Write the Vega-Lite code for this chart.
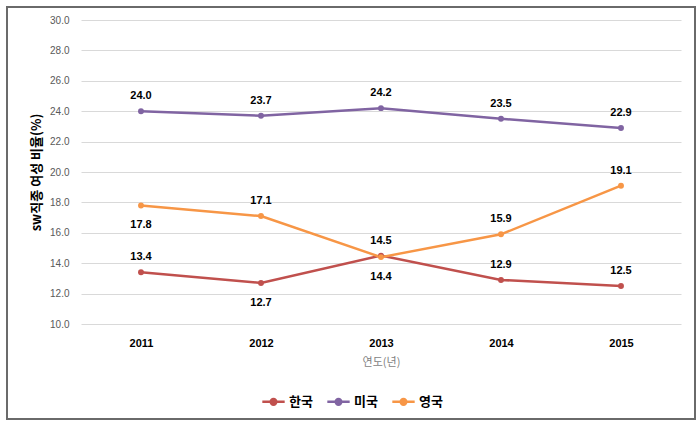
{
  "$schema": "https://vega.github.io/schema/vega-lite/v6.json",
  "width": 600,
  "height": 304,
  "padding": {"left": 6, "top": 6, "right": 6, "bottom": 6},
  "background": "white",
  "config": {
    "view": {"stroke": null},
    "axis": {"labelFont": "Liberation Sans", "titleFont": "Noto Sans CJK KR"},
    "axisY": {"labelOverlap": false}
  },
  "data": {
    "values": [
      {"year": 2011, "country": "한국", "value": 13.4},
      {"year": 2012, "country": "한국", "value": 12.7},
      {"year": 2013, "country": "한국", "value": 14.5},
      {"year": 2014, "country": "한국", "value": 12.9},
      {"year": 2015, "country": "한국", "value": 12.5},
      {"year": 2011, "country": "미국", "value": 24.0},
      {"year": 2012, "country": "미국", "value": 23.7},
      {"year": 2013, "country": "미국", "value": 24.2},
      {"year": 2014, "country": "미국", "value": 23.5},
      {"year": 2015, "country": "미국", "value": 22.9},
      {"year": 2011, "country": "영국", "value": 17.8},
      {"year": 2012, "country": "영국", "value": 17.1},
      {"year": 2013, "country": "영국", "value": 14.4},
      {"year": 2014, "country": "영국", "value": 15.9},
      {"year": 2015, "country": "영국", "value": 19.1}
    ]
  },
  "layer": [
    {
      "mark": {"type": "line", "strokeWidth": 2.5, "point": {"filled": true, "size": 35}},
      "encoding": {
        "x": {
          "field": "year", "type": "quantitative",
          "scale": {"domain": [2010.5, 2015.5], "nice": false, "zero": false},
          "axis": {
            "values": [2011, 2012, 2013, 2014, 2015], "format": "d", "tickCount": 20,
            "grid": false, "ticks": false, "domain": false,
            "labelFontWeight": "bold", "labelFontSize": 11, "labelColor": "#000000",
            "labelPadding": 13,
            "title": "연도(년)", "titleFontWeight": "normal", "titleFontSize": 11,
            "titleColor": "#7f7f7f", "titlePadding": 8
          }
        },
        "y": {
          "field": "value", "type": "quantitative",
          "scale": {"domain": [10, 30], "nice": false, "zero": false},
          "axis": {
            "values": [10, 12, 14, 16, 18, 20, 22, 24, 26, 28, 30], "format": ".1f",
            "tickCount": 20, "labelOverlap": false,
            "grid": true, "gridColor": "#d9d9d9", "ticks": false, "domain": false,
            "labelFontSize": 10, "labelColor": "#595959", "labelPadding": 12,
            "title": "sw직종 여성 비율(%)", "titleFontWeight": "bold", "titleFontSize": 13,
            "titleColor": "#000000", "titlePadding": 6
          }
        },
        "color": {
          "field": "country", "type": "nominal",
          "scale": {"domain": ["한국", "미국", "영국"], "range": ["#C0504D", "#8064A2", "#F79646"]},
          "legend": {
            "title": null, "orient": "none", "legendX": 180, "legendY": 369,
            "direction": "horizontal",
            "symbolType": "M-1,0H1M-0.25,0A0.25,0.25 0 1,0 0.25,0A0.25,0.25 0 1,0 -0.25,0",
            "symbolSize": 500, "symbolStrokeWidth": 2.5, "labelOffset": 3,
            "labelFont": "Noto Sans CJK KR", "labelFontWeight": "bold", "labelFontSize": 13,
            "labelColor": "#000000", "columnPadding": 9,
            "encode": {"symbols": {"update": {"fill": {"scale": "color", "field": "value"}}}}
          }
        }
      }
    },
    {
      "transform": [{"filter": "!((datum.country == '한국' && datum.year == 2012) || (datum.country == '영국' && (datum.year == 2011 || datum.year == 2013)))"}],
      "mark": {"type": "text", "dy": -15, "font": "Liberation Sans", "fontWeight": "bold", "fontSize": 11, "color": "#000000"},
      "encoding": {
        "x": {"field": "year", "type": "quantitative"},
        "y": {"field": "value", "type": "quantitative"},
        "text": {"field": "value", "type": "quantitative", "format": ".1f"}
      }
    },
    {
      "transform": [{"filter": "(datum.country == '한국' && datum.year == 2012) || (datum.country == '영국' && (datum.year == 2011 || datum.year == 2013))"}],
      "mark": {"type": "text", "dy": 20, "font": "Liberation Sans", "fontWeight": "bold", "fontSize": 11, "color": "#000000"},
      "encoding": {
        "x": {"field": "year", "type": "quantitative"},
        "y": {"field": "value", "type": "quantitative"},
        "text": {"field": "value", "type": "quantitative", "format": ".1f"}
      }
    },
    {
      "mark": {"type": "rect", "fill": null, "stroke": "#6b6b6b", "strokeWidth": 1.5, "clip": false},
      "encoding": {
        "x": {"datum": 2009.883, "type": "quantitative"},
        "x2": {"datum": 2015.617},
        "y": {"datum": 30.855, "type": "quantitative"},
        "y2": {"datum": 3.75}
      }
    }
  ]
}
